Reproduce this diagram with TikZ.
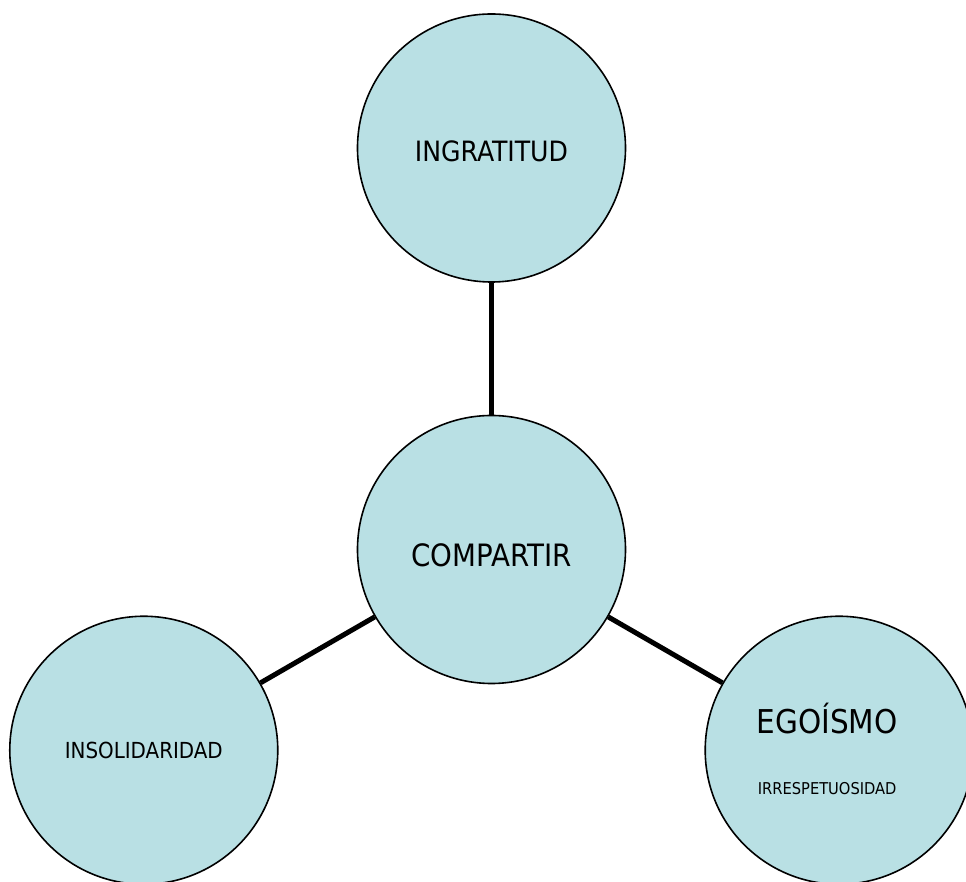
\documentclass[tikz,border=0pt]{standalone}
\usepackage{fontspec}
\setmainfont{DejaVu Sans Condensed}
\usetikzlibrary{positioning}
\definecolor{celeste}{RGB}{185,224,228}

\begin{document}
\begin{tikzpicture}[x=1pt,y=1pt,node distance=401.5pt,main node/.style={circle,draw,fill=celeste,line width=1.6pt,minimum size=268pt,inner sep=0pt},link/.style={line width=5pt}]
            \useasboundingbox (-491.5,-332.5) rectangle (474.5,549.5);

            \node[main node,font=\fontsize{30.8}{36}\selectfont,text height=35.4pt] (comp) at (0,0) {COMPARTIR};
            \node[main node,font=\fontsize{28}{32}\selectfont,text height=28.4pt] (ingr)[above of = comp] {INGRATITUD};
            \node[main node,font=\fontsize{22.1}{28}\selectfont] (insol) at (210:401.5) {INSOLIDARIDAD};
            \node[main node,
                label={[font=\fontsize{32.8}{38}\selectfont,text height=23.9pt,text depth=0pt,xshift=-12pt,yshift=29pt]center:EGOÍSMO},
                label={[font=\fontsize{16.3}{20}\selectfont,xshift=-12pt,yshift=-38.5pt]center:IRRESPETUOSIDAD}] (ego) at (330:401.5) {};

            \path[link]
                (comp) edge (ingr)
                (comp) edge (insol)
                (comp) edge (ego)
            ;
        \end{tikzpicture}
\end{document}
